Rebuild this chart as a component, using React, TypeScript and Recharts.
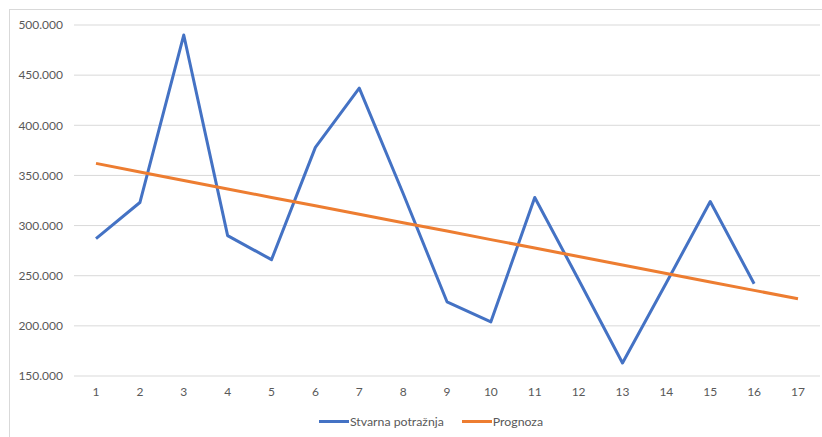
import React from 'react';
import { LineChart, Line, XAxis, YAxis, CartesianGrid } from 'recharts';

const periods = ['1', '2', '3', '4', '5', '6', '7', '8', '9', '10', '11', '12', '13', '14', '15', '16', '17'];

// Stvarna potražnja (16 values, period 17 is empty)
const actualDemand = [
  287000, 323000, 490000, 290000, 266000, 378000, 437000, 332000,
  224000, 204000, 328000, 246000, 163000, 243000, 324000, 242000,
];

// Prognoza (trend line)
const forecast = [
  362000, 353500, 345000, 336500, 328000, 319800, 311300, 302900,
  294500, 286000, 277600, 269100, 260700, 252200, 243800, 235400, 227000,
];

const yTicks = [150000, 200000, 250000, 300000, 350000, 400000, 450000, 500000];

const FONT = 'Lato, "Open Sans", sans-serif';
const TEXT = '#595959';
const BLUE = '#4472C4';
const ORANGE = '#ED7D31';

const chartData = periods.map((p, i) => ({
  period: p,
  actual: i < actualDemand.length ? actualDemand[i] : null,
  forecast: forecast[i],
}));

// Format thousands with a dot, e.g. 500000 -> 500.000
const formatY = (value: number): string => {
  const s = Math.round(value).toString();
  return s.replace(/\B(?=(\d{3})+(?!\d))/g, '.');
};

const legendItems = [
  { label: 'Stvarna potražnja', color: BLUE },
  { label: 'Prognoza', color: ORANGE },
];

const ChartLegend = () => (
  <div
    style={{
      position: 'absolute', left: 20, top: 414, width: 822,
      display: 'flex', justifyContent: 'center', alignItems: 'center', gap: 18,
      fontFamily: FONT, fontSize: 12.3, color: TEXT,
    }}
  >
    {legendItems.map((item) => (
      <div key={item.label} style={{ display: 'flex', alignItems: 'center' }}>
        <span style={{ display: 'inline-block', width: 30, height: 3, background: item.color, marginRight: 1 }} />
        <span>{item.label}</span>
      </div>
    ))}
  </div>
);

export default function App() {
  return (
    <div style={{ position: 'absolute', left: 0, top: 0, width: 822, height: 437, overflow: 'hidden', background: '#fff' }}>
      <div style={{ position: 'absolute', left: 9, top: 9, width: 840, height: 460, border: '1px solid #d9d9d9' }} />
      <div style={{ position: 'absolute', left: 0, top: 0 }}>
        <LineChart width={822} height={437} data={chartData} margin={{ top: 25, right: 2, left: 9, bottom: 31 }}>
          <CartesianGrid vertical={false} stroke="#d9d9d9" strokeWidth={1} />
          <XAxis
            dataKey="period"
            axisLine={false}
            tickLine={false}
            padding={{ left: 22, right: 22 }}
            tick={{ fill: TEXT, fontSize: 12, fontFamily: FONT }}
            tickMargin={5}
            height={30}
            interval={0}
          />
          <YAxis
            width={65}
            domain={[150000, 500000]}
            ticks={yTicks}
            axisLine={false}
            tickLine={false}
            tickMargin={5}
            tick={{ fill: TEXT, fontSize: 12, fontFamily: FONT }}
            tickFormatter={formatY}
          />
          <Line
            type="linear"
            dataKey="actual"
            name="Stvarna potražnja"
            stroke={BLUE}
            strokeWidth={3}
            dot={false}
            activeDot={false}
            strokeLinejoin="round"
            isAnimationActive={false}
          />
          <Line
            type="linear"
            dataKey="forecast"
            name="Prognoza"
            stroke={ORANGE}
            strokeWidth={3}
            dot={false}
            activeDot={false}
            isAnimationActive={false}
          />
        </LineChart>
      </div>
      <ChartLegend />
    </div>
  );
}
